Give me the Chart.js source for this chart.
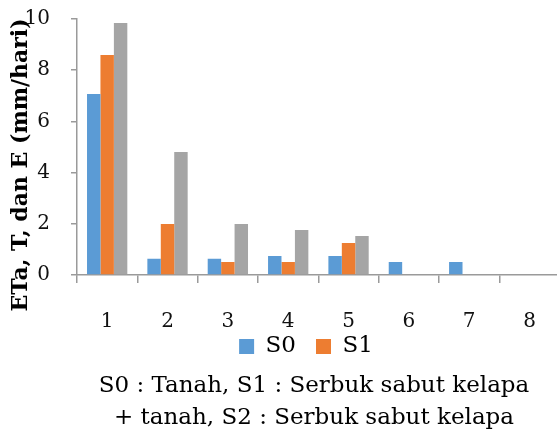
<!DOCTYPE html>
<html>
<head>
<meta charset="utf-8">
<script src="https://cdn.jsdelivr.net/npm/chart.js@4"></script>
<style>
  html, body { margin: 0; padding: 0; overflow: hidden; background: #fff; }
  canvas { display: block; }
</style>
</head>
<body>
<canvas id="chart" width="563" height="432"></canvas>
<script>
// Day categories along the x axis
const categories = ['1', '2', '3', '4', '5', '6', '7', '8'];

// Evapotranspiration values per treatment (mm/hari)
const s0Values = [7.07, 0.63, 0.63, 0.74, 0.74, 0.51, 0.51, 0];
const s1Values = [8.59, 1.99, 0.51, 0.51, 1.25, 0, 0, 0];
const s2Values = [9.84, 4.80, 1.99, 1.76, 1.52, 0, 0, 0];

const seriesNames = ['S0', 'S1', 'S2'];
const seriesColors = ['#5B9BD5', '#ED7D31', '#A5A5A5'];
const legendShown = ['S0', 'S1'];

// Value axis range and step
const yMin = 0;
const yMax = 10;
const yStep = 2;
const yTitle = 'ETa, T, dan E (mm/hari)';
const captionLines = [
  'S0 : Tanah, S1 : Serbuk sabut kelapa',
  '+ tanah, S2 : Serbuk sabut kelapa'
];

const FONT = '"DejaVu Serif", serif';
const axisColor = '#9a9a9a';

// Rotated axis title and the two-line caption under the legend
const extraText = {
  id: 'extraText',
  afterDraw(chart) {
    const ctx = chart.ctx;
    ctx.save();
    ctx.fillStyle = '#000';
    ctx.font = 'bold 22px ' + FONT;
    ctx.textAlign = 'center';
    ctx.textBaseline = 'alphabetic';
    ctx.translate(27, 165);
    ctx.rotate(-Math.PI / 2);
    ctx.fillText(yTitle, 0, 0);
    ctx.restore();

    ctx.save();
    ctx.fillStyle = '#000';
    ctx.font = '23px ' + FONT;
    ctx.textAlign = 'center';
    ctx.textBaseline = 'alphabetic';
    captionLines.forEach((line, i) => {
      ctx.fillText(line, 314, 392 + i * 32);
    });
    ctx.restore();
  }
};

// Compact axis boxes: tick labels may spill outside the box, so the
// label clip region is switched off for these scales.
function compactX(scale) {
  scale.height = 40;
  scale._computeLabelArea = () => undefined;
}
function compactY(scale) {
  scale.width = 27;
  scale.paddingTop = 0;
  scale.paddingBottom = 0;
  scale._computeLabelArea = () => undefined;
}

const datasets = [s0Values, s1Values, s2Values].map((vals, i) => ({
  label: seriesNames[i],
  data: vals,
  backgroundColor: seriesColors[i],
  borderWidth: 0,
  categoryPercentage: 0.668,
  barPercentage: 1.0
}));

new Chart(document.getElementById('chart'), {
  type: 'bar',
  data: { labels: categories, datasets },
  options: {
    responsive: false,
    animation: false,
    devicePixelRatio: 1,
    layout: { padding: { left: 50, right: 1, top: 19, bottom: 64 } },
    plugins: {
      tooltip: { enabled: false },
      title: { display: false },
      legend: {
        position: 'bottom',
        labels: {
          boxWidth: 15,
          boxHeight: 15,
          padding: 20,
          color: '#000',
          font: { family: FONT, size: 23 },
          filter: (item) => legendShown.includes(item.text)
        }
      }
    },
    scales: {
      x: {
        afterFit: compactX,
        grid: {
          display: true,
          drawOnChartArea: false,
          drawTicks: true,
          tickLength: 8,
          offset: true,
          color: axisColor,
          lineWidth: 1.5
        },
        border: { display: true, color: axisColor, width: 1.5 },
        ticks: {
          color: '#111',
          padding: 27,
          font: { family: FONT, size: 20 }
        }
      },
      y: {
        min: yMin,
        max: yMax,
        afterFit: compactY,
        grid: {
          display: true,
          drawOnChartArea: false,
          drawTicks: true,
          tickLength: 6,
          color: axisColor,
          lineWidth: 1.5
        },
        border: { display: true, color: axisColor, width: 1.5 },
        ticks: {
          stepSize: yStep,
          color: '#111',
          padding: 21,
          font: { family: FONT, size: 20 }
        },
        title: { display: false }
      }
    }
  },
  plugins: [extraText]
});
</script>
</body>
</html>
